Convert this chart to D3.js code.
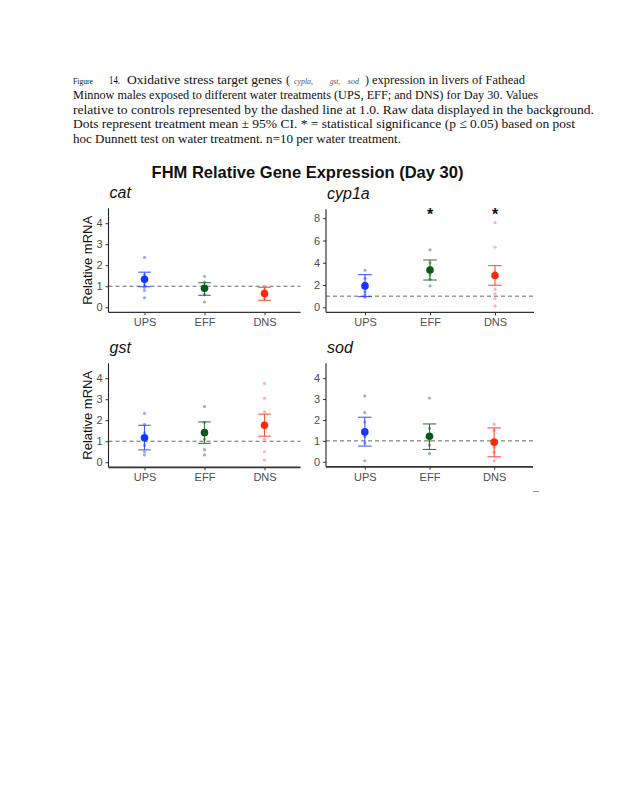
<!DOCTYPE html>
<html>
<head>
<meta charset="utf-8">
<script src="https://cdn.jsdelivr.net/npm/d3@7"></script>
<style>
  body { margin: 0; background: #fff; }
  svg { display: block; }
</style>
</head>
<body>
<div id="chart"></div>
<script>
// ---- data ----
var treatments = ["UPS", "EFF", "DNS"];
var genes = ["cat", "cyp1a", "gst", "sod"];

var catMean  = [1.33, 0.90, 0.65];
var catLower = [0.98, 0.57, 0.33];
var catUpper = [1.67, 1.17, 0.95];
var catRaw = [
    [2.37, 1.55, 1.3, 1.2, 1.05, 0.95, 0.8, 0.45],
    [1.47, 1.2, 1.0, 0.9, 0.8, 0.6, 0.25],
    [1.0, 0.85, 0.7, 0.6, 0.5, 0.4]
];

var cypMean  = [1.92, 3.35, 2.85];
var cypLower = [0.96, 2.45, 1.98];
var cypUpper = [2.93, 4.25, 3.74];
var cypRaw = [
    [3.32, 2.6, 2.2, 1.7, 1.4, 1.1, 0.9],
    [5.15, 4.0, 3.6, 3.2, 2.9, 2.5, 1.92],
    [7.6, 5.39, 3.2, 1.6, 1.2, 0.78, 0.12]
];
var cypSig = ["", "*", "*"];

var gstMean  = [1.17, 1.41, 1.76];
var gstLower = [0.59, 0.90, 1.24];
var gstUpper = [1.76, 1.92, 2.29];
var gstRaw = [
    [2.33, 1.8, 1.4, 1.1, 0.8, 0.5, 0.35],
    [2.65, 1.9, 1.5, 1.1, 0.6, 0.35],
    [3.75, 3.05, 2.4, 1.8, 1.1, 0.5, 0.1]
];

var sodMean  = [1.43, 1.22, 0.94];
var sodLower = [0.75, 0.59, 0.24];
var sodUpper = [2.13, 1.81, 1.62];
var sodRaw = [
    [3.15, 2.35, 1.9, 1.3, 1.2, 0.9, 0.05],
    [3.05, 1.6, 1.3, 1.0, 0.8, 0.4],
    [1.8, 1.5, 1.0, 0.7, 0.45, 0.05]
];

var smallTicks = [0, 1, 2, 3, 4];
var cypTicks = [0, 2, 4, 6, 8];
var smallDomain = [-0.24, 4.71];
var cypDomain = [-0.45, 8.8];
var controlLevel = 1.0;

var chartTitle = "FHM Relative Gene Expression (Day 30)";
var yLabel = "Relative mRNA";

// caption pieces as they sit in the page
var captionLines = [
    {line: 0, x: 73,  w: 20,  t: "Figure", s: 8.5},
    {line: 0, x: 109, w: 11,  t: "14.", s: 12},
    {line: 0, x: 127, w: 155, t: "Oxidative stress target genes"},
    {line: 0, x: 286, w: 4,   t: "("},
    {line: 0, x: 294, w: 19,  t: "cypla,", s: 9, it: true},
    {line: 0, x: 330, w: 10,  t: "gst,", s: 9, it: true},
    {line: 0, x: 348, w: 11,  t: "sod", s: 9, it: true},
    {line: 0, x: 365, w: 4,   t: ")"},
    {line: 0, x: 372, w: 153, t: "expression in livers of Fathead"},
    {line: 1, x: 73,  w: 465, t: "Minnow males exposed to different water treatments (UPS, EFF; and DNS) for Day 30. Values"},
    {line: 2, x: 73,  w: 521, t: "relative to controls represented by the dashed line at 1.0. Raw data displayed in the background."},
    {line: 3, x: 73,  w: 502, t: "Dots represent treatment mean \u00b1 95% CI.  * = statistical significance (p \u2264 0.05) based on post"},
    {line: 4, x: 73,  w: 328, t: "hoc Dunnett test on water treatment. n=10 per water treatment."}
];
var captionBaselines = [84, 98.5, 113.5, 128.3, 142.5];

// ---- drawing ----
var W = 618, H = 800;
var colors = {UPS: "#1436ff", EFF: "#065c16", DNS: "#ff2a0c"};
var rawColors = {UPS: "#8c98ff", EFF: "#8fa891", DNS: "#ffa0b4"};

var svg = d3.select("#chart").append("svg")
    .attr("width", W).attr("height", H)
    .style("font-family", "'Liberation Sans', Arial, sans-serif");

// caption
svg.append("g").selectAll("text").data(captionLines).enter()
    .append("text")
    .attr("x", function(d){ return d.x; })
    .attr("y", function(d){ return captionBaselines[d.line]; })
    .attr("textLength", function(d){ return d.w; })
    .attr("lengthAdjust", "spacingAndGlyphs")
    .style("font-family", "'Liberation Serif', 'Times New Roman', serif")
    .style("font-size", function(d){ return (d.s || 13) + "px"; })
    .style("font-style", function(d){ return d.it ? "italic" : "normal"; })
    .style("fill", function(d){ return d.it ? "#555" : "#111"; })
    .text(function(d){ return d.t; });

svg.append("text")
    .attr("x", 307.5).attr("y", 178)
    .attr("text-anchor", "middle")
    .style("font-size", "16.5px").style("font-weight", 700).style("fill", "#111")
    .text(chartTitle);

var panels = [
    {name: genes[0], mean: catMean, lo: catLower, hi: catUpper, raw: catRaw, ticks: smallTicks, dom: smallDomain,
     x0: 108.5, x1: 300.5, y0: 208.3, y1: 312.3, ylab: true, axisW: 1.3},
    {name: genes[1], mean: cypMean, lo: cypLower, hi: cypUpper, raw: cypRaw, ticks: cypTicks, dom: cypDomain,
     x0: 326, x1: 534, y0: 209.3, y1: 312.3, sig: cypSig, axisW: 1.3},
    {name: genes[2], mean: gstMean, lo: gstLower, hi: gstUpper, raw: gstRaw, ticks: smallTicks, dom: smallDomain,
     x0: 108.5, x1: 300.5, y0: 363.3, y1: 467.3, ylab: true, axisW: 1.8},
    {name: genes[3], mean: sodMean, lo: sodLower, hi: sodUpper, raw: sodRaw, ticks: smallTicks, dom: smallDomain,
     x0: 326, x1: 533, y0: 363.3, y1: 466.8, axisW: 1.8}
];

panels.forEach(function(p){
    var g = svg.append("g");
    var x = d3.scalePoint().domain(treatments).range([p.x0, p.x1]).padding(0.6);
    var y = d3.scaleLinear().domain(p.dom).range([p.y1, p.y0]);
    var capHalf = x.step() * 0.105;

    // panel title (gene name)
    g.append("text")
        .attr("x", p.x0 + 1).attr("y", p.y0 - 10.5)
        .style("font-size", "16px").style("font-style", "italic").style("fill", "#111")
        .text(p.name);

    // dashed control line
    g.append("line")
        .attr("x1", p.x0).attr("x2", p.x1)
        .attr("y1", y(controlLevel)).attr("y2", y(controlLevel))
        .attr("stroke", "#555").attr("stroke-width", 0.9).attr("stroke-dasharray", "4,3");

    // raw data in background
    treatments.forEach(function(t, i){
        g.selectAll(null).data(p.raw[i]).enter().append("circle")
            .attr("cx", x(t)).attr("cy", function(v){ return y(v); })
            .attr("r", 1.6)
            .attr("fill", rawColors[t]).attr("opacity", 0.85);
    });

    // CI bars
    var bars = g.selectAll(".ci").data(treatments).enter().append("g").attr("class", "ci")
        .attr("stroke", function(t){ return colors[t]; })
        .attr("stroke-width", 1.1).attr("opacity", 0.8);
    bars.append("line")
        .attr("x1", function(t){ return x(t); }).attr("x2", function(t){ return x(t); })
        .attr("y1", function(t, i){ return y(p.lo[i]); }).attr("y2", function(t, i){ return y(p.hi[i]); });
    bars.append("line")
        .attr("x1", function(t){ return x(t) - capHalf; }).attr("x2", function(t){ return x(t) + capHalf; })
        .attr("y1", function(t, i){ return y(p.lo[i]); }).attr("y2", function(t, i){ return y(p.lo[i]); });
    bars.append("line")
        .attr("x1", function(t){ return x(t) - capHalf; }).attr("x2", function(t){ return x(t) + capHalf; })
        .attr("y1", function(t, i){ return y(p.hi[i]); }).attr("y2", function(t, i){ return y(p.hi[i]); });

    // means
    g.selectAll(".mean").data(treatments).enter().append("circle").attr("class", "mean")
        .attr("cx", function(t){ return x(t); })
        .attr("cy", function(t, i){ return y(p.mean[i]); })
        .attr("r", 3.8)
        .attr("fill", function(t){ return colors[t]; });

    // significance marks
    if (p.sig) {
        g.selectAll(".sig").data(treatments).enter().append("text").attr("class", "sig")
            .attr("x", function(t){ return x(t); })
            .attr("y", y(8.45) + 6.5)
            .attr("text-anchor", "middle")
            .style("font-size", "16px").style("font-weight", 700).style("fill", "#111")
            .text(function(t, i){ return p.sig[i]; });
    }

    // axes
    var yAxis = g.append("g").attr("transform", "translate(" + p.x0 + ",0)")
        .call(d3.axisLeft(y).tickValues(p.ticks).tickSize(3).tickPadding(3).tickFormat(d3.format("d")));
    var xAxis = g.append("g").attr("transform", "translate(0," + p.y1 + ")")
        .call(d3.axisBottom(x).tickSize(3).tickPadding(3));
    [yAxis, xAxis].forEach(function(a){
        a.select(".domain").remove();
        a.selectAll(".tick line").attr("stroke", "#333");
        a.selectAll(".tick text")
            .style("font-family", "'Liberation Sans', Arial, sans-serif")
            .style("font-size", "11px").attr("fill", "#4d4d4d");
    });
    g.append("line").attr("x1", p.x0).attr("x2", p.x0).attr("y1", p.y0).attr("y2", p.y1)
        .attr("stroke", "#222").attr("stroke-width", 1.1);
    g.append("line").attr("x1", p.x0).attr("x2", p.x1).attr("y1", p.y1).attr("y2", p.y1)
        .attr("stroke", "#333").attr("stroke-width", p.axisW);

    if (p.ylab) {
        g.append("text")
            .attr("transform", "translate(91.5," + ((p.y0 + p.y1) / 2) + ") rotate(-90)")
            .attr("text-anchor", "middle")
            .style("font-size", "13px").style("fill", "#111")
            .text(yLabel);
    }
});

// small stray mark near the bottom right of the figure
svg.append("line").attr("x1", 533).attr("x2", 539).attr("y1", 491.5).attr("y2", 491.5)
    .attr("stroke", "#6aa89a").attr("stroke-width", 1);
</script>
</body>
</html>
